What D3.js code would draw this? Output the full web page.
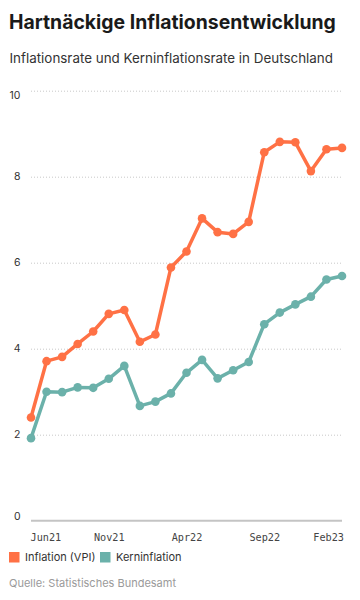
<!DOCTYPE html>
<html><head><meta charset="utf-8">
<script src="https://cdn.jsdelivr.net/npm/d3@7"></script>
<style>
html,body{margin:0;padding:0;background:#fff;}
svg{display:block;font-family:Inter,"Noto Sans",sans-serif;}
</style></head>
<body>
<svg id="c" width="360" height="600"></svg>
<script>
const months = ["Jun21","Jul21","Aug21","Sep21","Oct21","Nov21","Dec21","Jan22","Feb22","Mar22","Apr22","May22","Jun22","Jul22","Aug22","Sep22","Oct22","Nov22","Dec22","Jan23","Feb23"];
const inflation = [2.40,3.71,3.81,4.11,4.40,4.81,4.90,4.16,4.33,5.89,6.26,7.03,6.71,6.67,6.95,8.57,8.81,8.80,8.13,8.64,8.67];
const kerninflation = [1.92,3.00,2.99,3.10,3.09,3.30,3.60,2.67,2.77,2.96,3.44,3.74,3.31,3.50,3.69,4.57,4.84,5.03,5.21,5.61,5.69];
const xTickLabels = ["Jun21","Nov21","Apr22","Sep22","Feb23"];
const yTicks = [0,2,4,6,8,10];
const seriesNames = ["Inflation (VPI)","Kerninflation"];
const colors = ["#ff7145","#6bb1aa"];

const svg = d3.select("#c");
const x = d3.scalePoint().domain(months).range([31,342]);
const y = d3.scaleLinear().domain([0,10]).range([520.7,90.7]);

svg.append("text").attr("x",9).attr("y",28.5).attr("font-size",19.4).attr("font-weight",700).attr("fill","#1a1a1a").text("Hartnäckige Inflationsentwicklung");
svg.append("text").attr("x",9.5).attr("y",62.5).attr("font-size",13.4).attr("fill","#333").text("Inflationsrate und Kerninflationsrate in Deutschland");

// grid
const gy = svg.append("g").attr("transform","translate(31,0)")
  .call(d3.axisLeft(y).tickValues(yTicks.filter(d=>d>0)).tickSize(-311).tickFormat(""));
gy.select(".domain").remove();
gy.selectAll(".tick line").attr("stroke","#c8c8c8").attr("stroke-width",1).attr("stroke-dasharray","1,2");

// y labels
svg.append("g").selectAll("text").data(yTicks).join("text")
  .attr("x",20.5).attr("y",d=>y(d))
  .attr("dy",d=>d===10?"0.75em":d===0?"-0.1em":"0.35em")
  .attr("text-anchor","end").attr("font-size",10.5).attr("fill","#333").text(d=>d);

// baseline axis
const gx = svg.append("g").attr("transform",`translate(0,${y(0)})`)
  .call(d3.axisBottom(x).tickValues(xTickLabels).tickSize(0).tickPadding(13));
gx.select(".domain").attr("stroke","#c4c4c4").attr("stroke-width",2).attr("d",`M31,0H342`);
gx.selectAll(".tick text").attr("font-family","'DejaVu Sans Mono',monospace").attr("font-size",10.2).attr("fill","#444")
  .attr("text-anchor",(d,i)=>i===0?"start":i===xTickLabels.length-1?"end":"middle")
  .attr("dx",(d,i)=>i===0?-1:i===xTickLabels.length-1?1.5:0);

const line = d3.line().x((d,i)=>x(months[i])).y(d=>y(d));
[kerninflation, inflation].forEach((vals,k)=>{
  const c = k===0?colors[1]:colors[0];
  svg.append("path").datum(vals).attr("d",line).attr("fill","none").attr("stroke",c).attr("stroke-width",3.5).attr("stroke-linejoin","round");
  svg.append("g").selectAll("circle").data(vals).join("circle")
    .attr("cx",(d,i)=>x(months[i])).attr("cy",d=>y(d)).attr("r",4.3).attr("fill",c);
});

// legend
const lg = svg.append("g");
const legX = [9,100];
seriesNames.forEach((n,i)=>{
  lg.append("rect").attr("x",legX[i]).attr("y",552).attr("width",10.5).attr("height",10.5).attr("fill",colors[i]);
  lg.append("text").attr("x",legX[i]+16).attr("y",561).attr("font-size",11).attr("fill","#333").text(n);
});

svg.append("text").attr("x",9).attr("y",587).attr("font-size",11).attr("fill","#9a9a9a").text("Quelle: Statistisches Bundesamt");
</script>
</body></html>
